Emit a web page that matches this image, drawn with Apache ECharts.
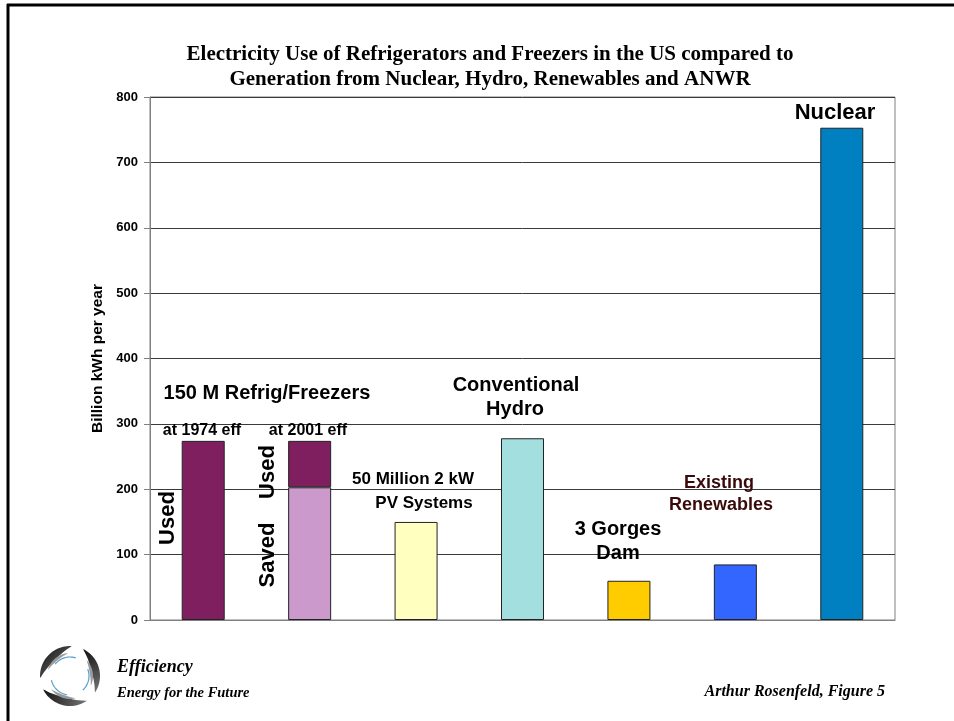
<!DOCTYPE html>
<html>
<head>
<meta charset="utf-8">
<script src="https://cdn.jsdelivr.net/npm/echarts@6/dist/echarts.min.js"></script>
<style>
html,body{margin:0;padding:0;background:#fff;}
#c{width:954px;height:721px;}
</style>
</head>
<body>
<div id="c"></div>
<script>
var categories = ['Refrig 1974 eff', 'Refrig 2001 eff', 'PV Systems', 'Conventional Hydro', '3 Gorges Dam', 'Existing Renewables', 'Nuclear'];
var lowerValues = [274, 203, 150, 278, 60, 85, 753];
var upperValues = ['-', 71, '-', '-', '-', '-', '-'];
var lowerColors = ['#801F5F', '#CC99CC', '#FFFFC0', '#A3DFDF', '#FFCC00', '#3366FF', '#0080C0'];
var upperColor = '#801F5F';
var yTicks = [0, 100, 200, 300, 400, 500, 600, 700, 800];

var chart = echarts.init(document.getElementById('c'));
var sansBold = {fontFamily: 'Liberation Sans, Arial, sans-serif', fontWeight: 'bold', fill: '#000'};
function txt(x, y, s, size, extra) {
  var st = Object.assign({}, sansBold, {text: s, fontSize: size, textAlign: 'center', textVerticalAlign: 'middle'}, extra || {});
  return {type: 'text', x: x, y: y, style: st, z: 100};
}
function vtxt(x, y, s, size) {
  return {type: 'text', x: x, y: y, rotation: Math.PI / 2,
    style: Object.assign({}, sansBold, {text: s, fontSize: size, textAlign: 'center', textVerticalAlign: 'middle'}), z: 100};
}
// logo swoosh (decorative)
function swoosh(cx, cy, R, w, a1, a2, fill) {
  var pts = [], n = 30, i, t, r;
  for (i = 0; i <= n; i++) {
    t = a1 + (a2 - a1) * i / n;
    pts.push([cx + R * Math.cos(t), cy + R * Math.sin(t)]);
  }
  for (i = n; i >= 0; i--) {
    t = a1 + (a2 - a1) * i / n;
    r = R - w * Math.pow(Math.sin(Math.PI * i / n), 0.8);
    pts.push([cx + r * Math.cos(t), cy + r * Math.sin(t)]);
  }
  return {type: 'polygon', shape: {points: pts}, style: {fill: fill}};
}
function accent(cx, cy, R, a1, a2) {
  var pts = [], n = 20;
  for (var i = 0; i <= n; i++) {
    var t = a1 + (a2 - a1) * i / n;
    pts.push([cx + R * Math.cos(t), cy + R * Math.sin(t)]);
  }
  return {type: 'polyline', shape: {points: pts}, style: {stroke: '#5a9ccc', lineWidth: 1.2, fill: null}};
}
var logo = [];
[0, 2 * Math.PI / 3, 4 * Math.PI / 3].forEach(function (off) {
  var base = -Math.PI * 0.72 + off;
  logo.push(swoosh(70, 676, 30, 8, base - 0.95, base + 0.75,
    {type: 'linear', x: 0, y: 0, x2: 1, y2: 1, colorStops: [{offset: 0, color: '#111'}, {offset: 1, color: '#777'}]}));
  logo.push(swoosh(70, 676, 23, 3, base - 0.6, base + 0.6, '#9a9a9a'));
  logo.push(accent(70, 676, 19, base - 0.2, base + 1.0));
});

var serifBI = {fontFamily: 'Liberation Serif, Times New Roman, serif', fontWeight: 'bold', fontStyle: 'italic', fill: '#000'};
var serifB = {fontFamily: 'Liberation Serif, Times New Roman, serif', fontWeight: 'bold', fontSize: 21, fill: '#000', textAlign: 'center', textVerticalAlign: 'middle'};

chart.setOption({
  animation: false,
  backgroundColor: '#fff',
  grid: {left: 150, right: 59, top: 97, bottom: 101, show: true, borderColor: '#808080', borderWidth: 1, backgroundColor: '#fff'},
  xAxis: {
    type: 'category', data: categories,
    axisLabel: {show: false}, axisTick: {show: false},
    axisLine: {show: true, lineStyle: {color: '#808080', width: 1}}
  },
  yAxis: {
    type: 'value', min: 0, max: 800, interval: 100,
    name: 'Billion kWh per year', nameLocation: 'middle', nameGap: 44, nameRotate: 90,
    nameTextStyle: {fontFamily: 'Liberation Sans, Arial, sans-serif', fontWeight: 'bold', fontSize: 15.5, color: '#000'},
    axisLabel: {fontFamily: 'Liberation Sans, Arial, sans-serif', fontWeight: 'bold', fontSize: 13, color: '#000', margin: 12},
    axisLine: {show: true, lineStyle: {color: '#808080', width: 1}},
    axisTick: {show: true, length: 6, lineStyle: {color: '#808080'}},
    splitLine: {show: true, lineStyle: {color: '#3a3a3a', width: 1}}
  },
  series: [
    {type: 'bar', stack: 'a', barWidth: 43,
      data: lowerValues.map(function (v, i) { return {value: v, itemStyle: {color: lowerColors[i]}}; }),
      itemStyle: {borderColor: '#222', borderWidth: 1}},
    {type: 'bar', stack: 'a', barWidth: 43, data: upperValues,
      itemStyle: {color: upperColor, borderColor: '#222', borderWidth: 1}}
  ],
  graphic: [
    {type: 'line', shape: {x1: 7, y1: 5, x2: 954, y2: 5}, style: {stroke: '#000', lineWidth: 3}},
    {type: 'line', shape: {x1: 8, y1: 4, x2: 8, y2: 721}, style: {stroke: '#000', lineWidth: 3}},
    {type: 'text', x: 490, y: 55, style: Object.assign({}, serifB, {text: 'Electricity Use of Refrigerators and Freezers in the US compared to'})},
    {type: 'text', x: 490, y: 80, style: Object.assign({}, serifB, {text: 'Generation from Nuclear, Hydro, Renewables and ANWR'})},
    txt(267, 393, '150 M Refrig/Freezers', 20),
    txt(202, 431, 'at 1974 eff', 16),
    txt(308, 431, 'at 2001 eff', 16),
    vtxt(168, 518, 'Used', 22),
    vtxt(268, 555, 'Saved', 22),
    vtxt(268, 472, 'Used', 22),
    txt(413, 479, '50 Million 2 kW', 17),
    txt(424, 503, 'PV Systems', 17),
    txt(516, 385, 'Conventional', 20),
    txt(515, 409, 'Hydro', 20),
    txt(618, 529, '3 Gorges', 20),
    txt(618, 553, 'Dam', 20),
    txt(719, 483, 'Existing', 18, {fill: '#3a0a0a'}),
    txt(721, 505, 'Renewables', 18, {fill: '#3a0a0a'}),
    txt(835, 113, 'Nuclear', 22),
    {type: 'group', children: logo},
    {type: 'text', x: 117, y: 667, style: Object.assign({}, serifBI, {text: 'Efficiency', fontSize: 18, textVerticalAlign: 'middle'})},
    {type: 'text', x: 117, y: 693, style: Object.assign({}, serifBI, {text: 'Energy for the Future', fontSize: 14.5, textVerticalAlign: 'middle'})},
    {type: 'text', x: 885, y: 692, style: Object.assign({}, serifBI, {text: 'Arthur Rosenfeld, Figure 5', fontSize: 16, textAlign: 'right', textVerticalAlign: 'middle'})}
  ]
});
</script>
</body>
</html>
